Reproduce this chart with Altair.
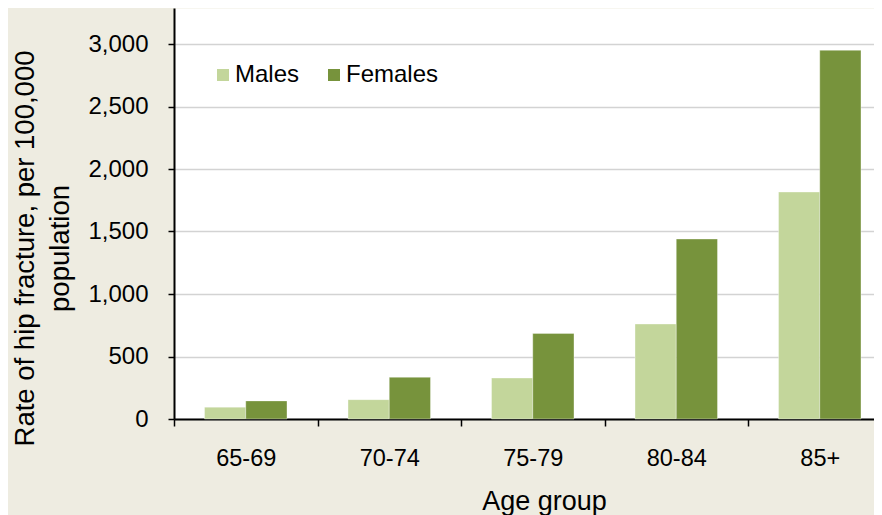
import altair as alt
import pandas as pd

age_groups = ["65-69", "70-74", "75-79", "80-84", "85+"]
sexes = ["Males", "Females"]
males = [95, 155, 328, 760, 1816]
females = [145, 334, 685, 1440, 2950]
colors = ["#C3D69B", "#77933C"]
y_ticks = [0, 500, 1000, 1500, 2000, 2500, 3000]

rows = []
for i, g in enumerate(age_groups):
    rows.append({"age": g, "sex": "Males", "rate": males[i]})
    rows.append({"age": g, "sex": "Females", "rate": females[i]})
df = pd.DataFrame(rows)

FONT = "Liberation Sans"

chart = alt.Chart(df).mark_bar(
    stroke="white", strokeOpacity=0.35, strokeWidth=1
).encode(
    x=alt.X(
        "age:N", sort=age_groups, title="Age group",
        scale=alt.Scale(paddingInner=0, paddingOuter=0),
        axis=alt.Axis(
            labelAngle=0, tickBand="extent", tickSize=7, tickColor="black",
            tickWidth=1.5, domainColor="black", domainWidth=2,
            labelFont=FONT, labelFontSize=23.5, labelColor="black",
            labelBaseline="alphabetic", labelPadding=39,
            titleFont=FONT, titleFontSize=27, titleFontWeight="normal",
            titleColor="black", titleX=370, titleY=90, titleBaseline="alphabetic",
            titleAlign="center", grid=False,
        ),
    ),
    xOffset=alt.XOffset(
        "sex:N", sort=sexes,
        scale=alt.Scale(paddingOuter=0.74, paddingInner=0),
    ),
    y=alt.Y(
        "rate:Q",
        scale=alt.Scale(domain=[0, 3288], nice=False),
        title=["Rate of hip fracture, per 100,000", "population"],
        axis=alt.Axis(
            values=y_ticks, format=",d", tickSize=6, tickColor="black",
            tickWidth=1.5, domainColor="black", domainWidth=2,
            labelFont=FONT, labelFontSize=24, labelColor="black", labelPadding=20,
            grid=True, gridColor="#D3D3D3", gridWidth=1.3,
            titleFont=FONT, titleFontSize=27.5, titleFontWeight="normal",
            titleColor="black", titleAngle=270, titleBaseline="top",
            titleAlign="center", titleX=-163, titleY=240, titleLineHeight=35,
        ),
    ),
    color=alt.Color(
        "sex:N", sort=sexes,
        scale=alt.Scale(domain=sexes, range=colors),
        legend=alt.Legend(
            title=None, orient="none", legendX=37, legendY=55,
            direction="horizontal", symbolType="square", symbolSize=144,
            symbolStrokeWidth=0, symbolOpacity=1, labelFont=FONT,
            labelFontSize=24, labelColor="black", labelOffset=0,
            columnPadding=22, padding=0,
        ),
    ),
).properties(
    width=717.5, height=411,
    autosize=alt.AutoSizeParams(type="none"),
    padding={"left": 166, "top": 0, "right": -17.5, "bottom": 96},
    background="#EEECE1",
).configure_view(fill="white", stroke="transparent")

chart.save("out.html", embed_options={"renderer": "svg", "actions": False})
